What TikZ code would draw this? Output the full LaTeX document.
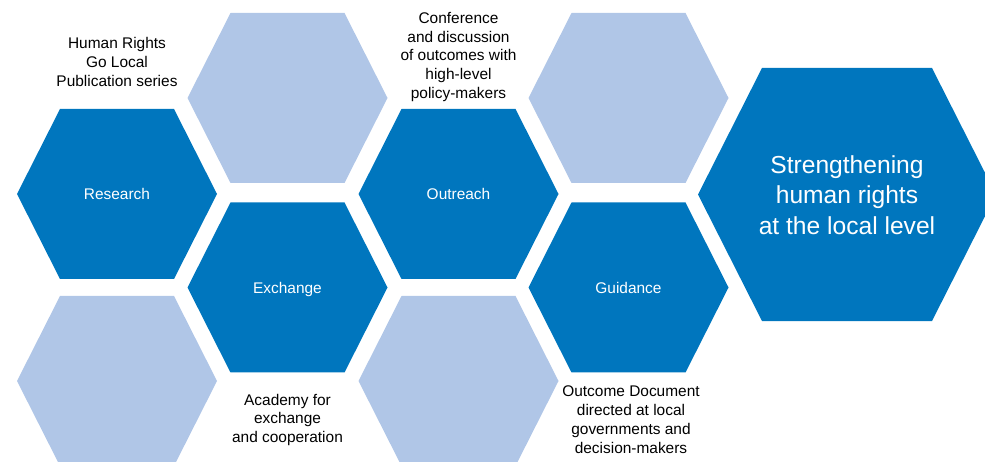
\documentclass[tikz,border=0pt]{standalone}
\usepackage{fontspec}
\setmainfont{Liberation Sans}
\definecolor{celldark}{RGB}{0,118,190}
\definecolor{celllight}{RGB}{176,198,231}

\begin{document}
\begin{tikzpicture}[x=1bp,y=-1bp,
  pics/hexcell/.style={code={
    \fill[#1] (-100,0) -- (-57,-85) -- (57,-85) -- (100,0) -- (57,85) -- (-57,85) -- cycle;}},
  celltext/.style={text=white,text depth=0pt,font=\fontsize{15.5}{19}\selectfont},
  note/.style={align=center,text=black,inner sep=0pt,font=\fontsize{15.5}{19}\selectfont}]
  \clip (0,0) rectangle (985,462);
  \pic at (287.5,98) {hexcell=celllight};
  \pic at (628.5,98) {hexcell=celllight};
  \pic at (117,194) {hexcell=celldark};
  \pic at (458.5,194) {hexcell=celldark};
  \pic at (287.5,287.5) {hexcell=celldark};
  \pic at (628.5,287.5) {hexcell=celldark};
  \pic at (117,381) {hexcell=celllight};
  \pic at (458.5,381) {hexcell=celllight};
  \pic[scale=1.49] at (847,194.5) {hexcell=celldark};

  \node[celltext] (research) at (117,194) {Research};
  \node[celltext] (outreach) at (458.5,194) {Outreach};
  \node[celltext] (exchange) at (287.5,287.5) {Exchange};
  \node[celltext] (guidance) at (628.5,287.5) {Guidance};
  \node[align=center,text=white,font=\fontsize{24.7}{30.5}\selectfont] (goal) at (847,195)
    {Strengthening\\human rights\\at the local level};

  \node[note] (publication) at (117,62) {Human Rights\\Go Local\\Publication series};
  \node[note] (conference) at (458.5,57) {Conference\\and discussion\\of outcomes with\\high-level\\policy-makers};
  \node[note] (academy) at (287.5,420) {Academy for\\exchange\\and cooperation};
  \node[note] (outcome) at (631,420) {Outcome Document\\directed at local\\governments and\\decision-makers};
\end{tikzpicture}
\end{document}
